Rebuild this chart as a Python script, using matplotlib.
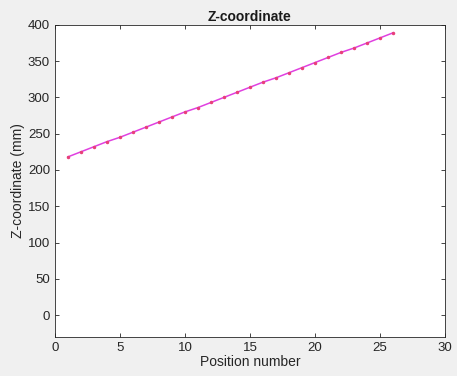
import numpy as np
import matplotlib.pyplot as plt

plt.rcParams['font.family'] = ['Liberation Sans', 'DejaVu Sans']

positions = list(range(1, 27))
z_mm = [218, 225, 232, 239, 245, 252, 259, 266, 273, 280, 286, 293, 300,
        307, 314, 321, 327, 334, 341, 348, 355, 362, 368, 375, 382, 389]

fig = plt.figure(figsize=(4.57, 3.76), dpi=100, facecolor='#f0f0f0')
ax = fig.add_axes([0.120, 0.104, 0.854, 0.830])

ax.plot(positions, z_mm, color='#e040e0', linewidth=1.1,
        marker='.', markersize=3, markerfacecolor='#e8407a', markeredgecolor='#e8407a')

ax.set_xlim(0, 30)
ax.set_ylim(-30, 400)
ax.set_xticks(range(0, 31, 5))
ax.set_yticks(range(0, 401, 50))
ax.tick_params(direction='in', top=True, right=True, labelsize=9.5, colors='#262626',
               length=3, width=0.6)
for s in ax.spines.values():
    s.set_color('#262626')
    s.set_linewidth(0.6)

ax.set_title('Z-coordinate', fontsize=10, fontweight='bold', color='#1a1a1a', pad=3)
ax.set_xlabel('Position number', fontsize=10, color='#262626', labelpad=1)
ax.set_ylabel('Z-coordinate (mm)', fontsize=10, color='#262626', labelpad=2)

fig.savefig('out.png', dpi=100, facecolor=fig.get_facecolor())
